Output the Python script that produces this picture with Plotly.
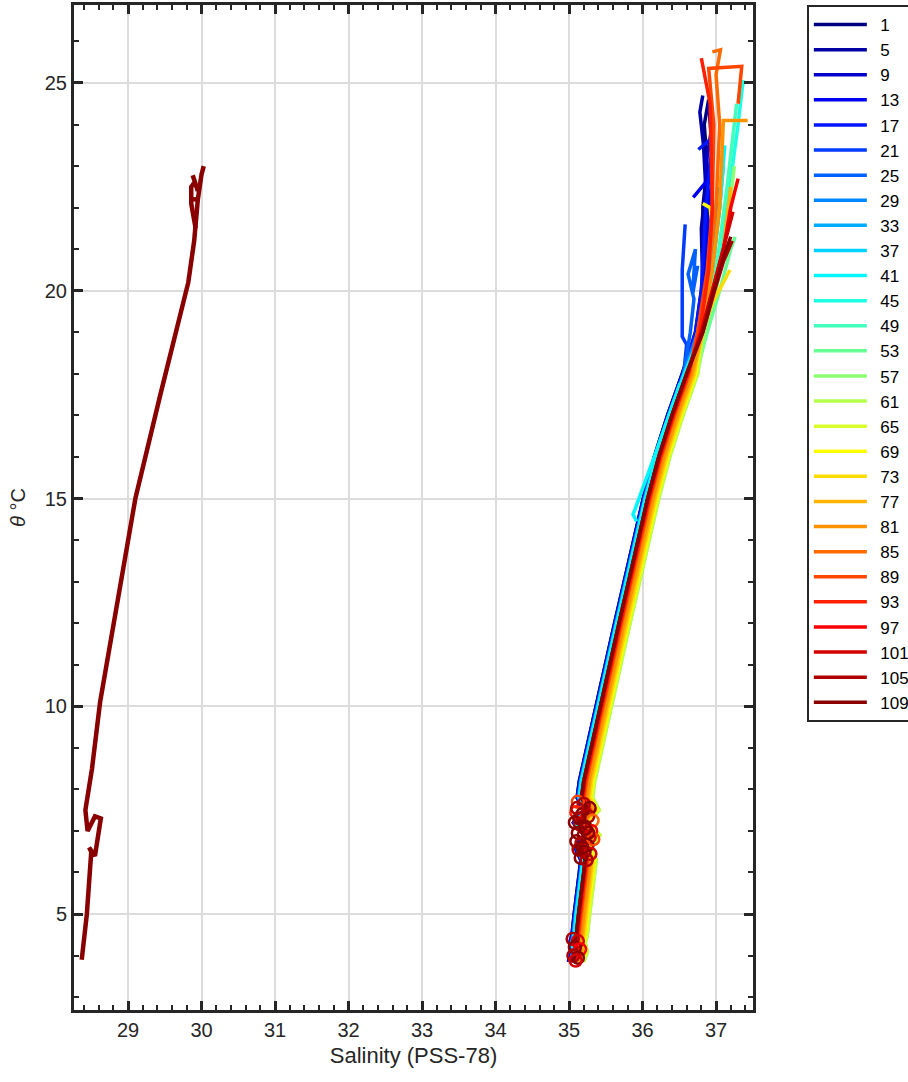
import plotly.graph_objects as go

# ---------------- data ----------------
profile_ids = [1, 5, 9, 13, 17, 21, 25, 29, 33, 37, 41, 45, 49, 53,
               57, 61, 65, 69, 73, 77, 81, 85, 89, 93, 97, 101, 105, 109]

# shared deep part of the main theta-S bundle (reference = red profiles)
deep_T = [3.85, 4.1, 4.3, 4.5, 5.0, 5.5, 6.0, 6.3, 6.6, 6.9, 7.2, 7.5, 7.8, 8.2,
          9.0, 10.0, 11.0, 12.0, 13.0, 14.0, 15.0, 16.0, 17.0, 18.0]
deep_S = [35.05, 35.10, 35.07, 35.10, 35.13, 35.17, 35.20, 35.22, 35.14, 35.27,
          35.12, 35.26, 35.17, 35.20, 35.30, 35.42, 35.55, 35.68, 35.81, 35.94,
          36.07, 36.22, 36.40, 36.60]

# salinity offset of each profile's deep part relative to deep_S
deep_offset = [-0.06, -0.06, -0.05, -0.05, -0.05, -0.04, -0.04, -0.04, -0.03,
               -0.03, -0.03, 0.05, 0.10, 0.13, 0.15, 0.15, 0.14, 0.12, 0.11,
               0.09, 0.07, 0.04, 0.03, 0.02, 0.01, 0.00, 0.00, 0.00]

# upper (warm) part of each profile
upper_S = [
    [36.72, 36.80, 36.85, 36.82, 36.88, 36.84, 36.90],
    [36.74, 36.82, 36.80, 36.86, 36.83, 36.78, 36.82],
    [36.73, 36.83, 36.88, 36.90, 36.86, 36.93, 36.90],
    [36.75, 36.85, 36.88, 36.95, 36.69],
    [36.72, 36.80, 36.86, 36.96, 36.76],
    [36.60, 36.54, 36.54, 36.58],
    [36.65, 36.70, 36.62, 36.72, 36.68, 36.75],
    [36.75, 36.85, 36.92, 36.95],
    [36.78, 36.90, 36.98, 37.02],
    [36.80, 36.95, 37.05, 37.10],
    [36.80, 36.95, 37.05, 37.12],
    [36.85, 37.00, 37.15, 37.30, 37.37],
    [36.85, 37.00, 37.15, 37.28],
    [36.88, 37.05, 37.20, 37.26],
    [36.85, 37.00, 37.15, 37.25],
    [36.82, 36.95, 37.10, 37.20],
    [36.80, 36.92, 37.05, 37.15],
    [36.78, 36.88, 36.95, 36.92, 36.82],
    [36.80, 36.95, 37.10, 37.19],
    [36.82, 36.98, 37.10, 37.20],
    [36.80, 36.95, 37.05, 37.10, 37.43],
    [36.75, 36.90, 37.00, 37.05, 37.00, 37.06, 36.95],
    [36.75, 36.88, 36.95, 36.97, 36.90, 37.35, 37.30],
    [36.78, 36.90, 36.95, 36.92, 36.80],
    [36.80, 36.95, 37.10, 37.20, 37.30],
    [36.80, 36.95, 37.10, 37.23],
    [36.82, 36.98, 37.10, 37.22],
    [36.82, 36.97, 37.10, 37.20],
]
upper_T = [
    [19.0, 20.0, 21.0, 22.0, 23.0, 24.0, 24.6],
    [19.0, 20.0, 21.5, 22.5, 23.5, 24.3, 24.7],
    [19.0, 20.0, 21.0, 22.0, 23.0, 23.8, 24.5],
    [19.0, 20.0, 21.5, 22.8, 22.25],
    [19.0, 20.0, 22.0, 23.7, 23.4],
    [18.7, 18.9, 20.5, 21.6],
    [19.0, 19.8, 20.4, 21.0, 19.9, 20.6],
    [19.0, 20.0, 21.0, 22.0],
    [19.0, 20.0, 21.5, 22.5],
    [19.0, 20.5, 22.0, 23.0],
    [19.0, 20.5, 22.0, 23.5],
    [19.0, 20.5, 22.0, 24.0, 25.07],
    [19.0, 20.5, 22.5, 24.5],
    [19.0, 20.0, 21.0, 21.3],
    [19.0, 20.0, 21.5, 23.0],
    [19.0, 20.0, 21.0, 22.0],
    [19.0, 19.8, 20.5, 21.0],
    [19.0, 20.3, 21.5, 22.0, 22.1],
    [19.0, 19.7, 20.2, 20.5],
    [19.0, 20.0, 21.0, 22.5],
    [19.0, 20.5, 22.0, 24.1, 24.1],
    [19.0, 20.5, 22.0, 24.0, 25.2, 25.8, 25.75],
    [19.0, 20.5, 22.0, 24.0, 25.35, 25.4, 24.5],
    [19.0, 20.5, 22.0, 24.5, 25.6],
    [19.0, 20.0, 21.0, 22.0, 22.7],
    [19.0, 20.0, 21.0, 21.9],
    [19.0, 20.0, 20.7, 21.2],
    [19.0, 20.0, 20.8, 21.3],
]

# excursion of profile 41 left of the bundle
branch41_S = [35.92, 35.87, 35.90, 36.20, 36.51]
branch41_T = [14.45, 14.62, 14.75, 16.20, 17.77]

# the low-salinity profile on the left, drawn in dark red
left_S = [28.37, 28.44, 28.50, 28.47, 28.55, 28.60, 28.63, 28.55, 28.45, 28.42,
          28.51, 28.62, 28.86, 29.10, 29.44, 29.82, 29.90, 29.95, 30.00, 30.03,
          None, 29.95, 29.88, None, 29.92, 29.86, 29.86, 29.90, None, 29.95, 29.85]
left_T = [3.90, 5.00, 6.50, 6.60, 6.40, 6.90, 7.30, 7.35, 7.00, 7.50,
          8.50, 10.10, 12.50, 15.00, 17.50, 20.20, 21.20, 22.20, 22.80, 23.00,
          None, 22.40, 22.78, None, 21.50, 22.10, 22.50, 22.60, None, 22.20, 22.20]

# open-circle flagged points (mid-depth blob and bottom cluster)
circle_S = [35.12, 35.20, 35.28, 35.10, 35.18, 35.26, 35.32, 35.08, 35.15, 35.22,
            35.30, 35.12, 35.20, 35.28, 35.10, 35.17, 35.25, 35.33, 35.13, 35.21,
            35.29, 35.16, 35.24, 35.14, 35.22, 35.18, 35.11, 35.26,
            35.05, 35.12, 35.08, 35.15, 35.06, 35.12, 35.09]
circle_T = [7.70, 7.65, 7.55, 7.45, 7.40, 7.35, 7.25, 7.20, 7.15, 7.10,
            7.00, 6.95, 6.90, 6.85, 6.75, 6.70, 6.65, 6.80, 6.55, 6.50,
            6.45, 6.35, 6.30, 7.30, 7.05, 6.60, 7.55, 6.95,
            4.40, 4.35, 4.20, 4.15, 4.00, 3.95, 3.88]
circle_profile = [89, 105, 109, 93, 109, 105, 85, 109, 105, 109,
                  97, 109, 105, 101, 109, 105, 109, 89, 105, 109,
                  101, 109, 105, 109, 109, 109, 105, 109,
                  105, 101, 109, 97, 105, 109, 101]

# ---------------- styling helpers ----------------
N_PROFILES = 110


def jet(i):
    x = (i - 1) / (N_PROFILES - 1)

    def c(v):
        return max(0.0, min(1.0, v))
    r = c(1.5 - abs(4 * x - 3))
    g = c(1.5 - abs(4 * x - 2))
    b = c(1.5 - abs(4 * x - 1))
    return "rgb(%d,%d,%d)" % (round(r * 255), round(g * 255), round(b * 255))


fig = go.Figure()

for k, pid in enumerate(profile_ids):
    col = jet(pid)
    xs = [s + deep_offset[k] for s in deep_S] + upper_S[k]
    ys = list(deep_T) + upper_T[k]
    if pid == 41:
        xs = xs + [None] + branch41_S
        ys = ys + [None] + branch41_T
    fig.add_trace(go.Scatter(
        x=xs, y=ys, mode="lines", name="\u2002" + str(pid), legendgroup=str(pid),
        line=dict(color=col, width=3.5), connectgaps=False))
    if pid == 109:
        fig.add_trace(go.Scatter(
            x=left_S, y=left_T, mode="lines", showlegend=False,
            legendgroup=str(pid), line=dict(color=col, width=4.5),
            connectgaps=False))

circle_cols = [jet(p) for p in circle_profile]
fig.add_trace(go.Scatter(
    x=circle_S, y=circle_T, mode="markers", showlegend=False,
    marker=dict(symbol="circle-open", size=12, color=circle_cols,
                line=dict(color=circle_cols, width=2.5))))

axis_col = "#262626"
grid_col = "#dcdcdc"
FONT = "Liberation Sans, Arial, sans-serif"

fig.update_layout(
    width=908, height=1082,
    margin=dict(l=74, r=155, t=5, b=72, autoexpand=False),
    paper_bgcolor="white", plot_bgcolor="white",
    font=dict(family=FONT, size=20, color=axis_col),
    legend=dict(x=1.0793, y=1.0, xanchor="left", yanchor="top",
                bordercolor=axis_col, borderwidth=2, bgcolor="white",
                font=dict(size=17, color="black"), traceorder="grouped",
                tracegroupgap=0, itemwidth=53),
    showlegend=True,
)

fig.update_xaxes(
    range=[28.265, 37.503], tickvals=list(range(29, 38)),
    ticks="inside", ticklen=9, tickwidth=3, tickcolor=axis_col,
    showline=True, linewidth=3, linecolor=axis_col, mirror="ticks",
    showgrid=True, gridcolor=grid_col, gridwidth=2, zeroline=False,
    minor=dict(dtick=0.2, tick0=29, ticks="inside", ticklen=5, tickwidth=2,
               tickcolor=axis_col, showgrid=False),
    title=dict(text="Salinity (PSS-78)", font=dict(size=22), standoff=8),
    tickfont=dict(size=20),
)
fig.update_yaxes(
    range=[2.69, 26.877], tickvals=[5, 10, 15, 20, 25],
    ticks="inside", ticklen=9, tickwidth=3, tickcolor=axis_col,
    showline=True, linewidth=3, linecolor=axis_col, mirror="ticks",
    showgrid=True, gridcolor=grid_col, gridwidth=2, zeroline=False,
    minor=dict(dtick=1, tick0=0, ticks="inside", ticklen=5, tickwidth=2,
               tickcolor=axis_col, showgrid=False),
    title=dict(text="<i>θ</i> °C", font=dict(size=20), standoff=14),
    tickfont=dict(size=20),
)

fig.write_html(
    "out.html",
    config={"displayModeBar": False},
    post_script="document.body.style.margin='0px';document.body.style.overflow='hidden';",
)
